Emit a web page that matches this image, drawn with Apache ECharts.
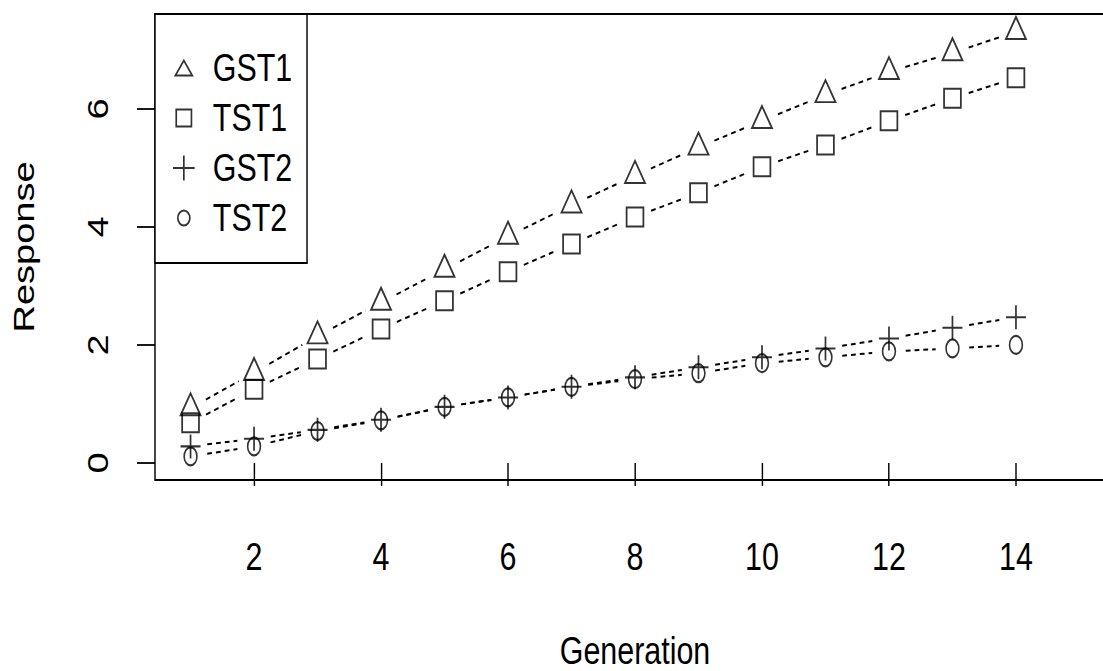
<!DOCTYPE html>
<html>
<head>
<meta charset="utf-8">
<script src="https://cdn.jsdelivr.net/npm/echarts@6/dist/echarts.min.js"></script>
<style>
  html, body { margin: 0; padding: 0; background: #fff; overflow: hidden; }
  /* the source plot is squeezed horizontally; draw wide and squeeze the same way */
  #chart { width: 1379px; height: 671px; transform: scaleX(0.8); transform-origin: 0 0; }
</style>
</head>
<body>
<div id="chart"></div>
<script>
// values
const generations = [1, 2, 3, 4, 5, 6, 7, 8, 9, 10, 11, 12, 13, 14];
const gst1 = [0.93, 1.53, 2.15, 2.72, 3.28, 3.84, 4.37, 4.87, 5.35, 5.80, 6.24, 6.63, 6.95, 7.31];
const tst1 = [0.68, 1.25, 1.76, 2.27, 2.75, 3.24, 3.71, 4.17, 4.58, 5.02, 5.39, 5.80, 6.18, 6.53];
const gst2 = [0.28, 0.41, 0.56, 0.73, 0.95, 1.11, 1.29, 1.45, 1.62, 1.79, 1.94, 2.11, 2.29, 2.47];
const tst2 = [0.11, 0.28, 0.54, 0.72, 0.95, 1.11, 1.29, 1.42, 1.52, 1.69, 1.79, 1.89, 1.94, 2.00];
const xTicks = [2, 4, 6, 8, 10, 12, 14];
const yTicks = [0, 2, 4, 6];

const font = "'Liberation Sans', Arial, sans-serif";

const symbols = {
  GST1: { plot: 'path://M12.5 0L25 22L0 22Z', size: [25, 22], offset: [0, -3.7],
    legend: 'path://M0 0M27 25M13.5 5L24 20L3 20Z' },
  TST1: { plot: 'path://M0 0L21 0L21 19L0 19Z', size: [21, 19], offset: [0, 0],
    legend: 'path://M0 0M27 25M4 4L23 4L23 21L4 21Z' },
  GST2: { plot: 'path://M0 12L25 12M12.5 0L12.5 24', size: [25, 24], offset: [0, 0],
    legend: 'path://M0 12.5L27 12.5M13.5 0L13.5 25' },
  TST2: { plot: 'path://M0 9A8 9 0 1 1 16 9A8 9 0 1 1 0 9Z', size: [16, 18], offset: [0, 0],
    legend: 'path://M0 0M27 25M6 12.5A7.5 7.5 0 1 1 21 12.5A7.5 7.5 0 1 1 6 12.5Z' },
};

const seriesData = [
  ['GST1', gst1],
  ['TST1', tst1],
  ['GST2', gst2],
  ['TST2', tst2],
];

// R type="b": dashed segments that stop short of each point
const gapLine = (values, gap) => (params, api) => {
  const i = params.dataIndex;
  if (i >= values.length - 1) return null;
  const p0 = api.coord([generations[i], values[i]]);
  const p1 = api.coord([generations[i + 1], values[i + 1]]);
  const dx = p1[0] - p0[0];
  const dy = p1[1] - p0[1];
  const len = Math.sqrt(dx * dx + dy * dy);
  const ux = dx / len;
  const uy = dy / len;
  return {
    type: 'line',
    shape: {
      x1: p0[0] + ux * gap, y1: p0[1] + uy * gap,
      x2: p1[0] - ux * gap, y2: p1[1] - uy * gap,
    },
    style: { stroke: '#000', lineWidth: 2, lineDash: [6, 5] },
  };
};

const series = [];
seriesData.forEach(([name, values]) => {
  const pts = generations.map((g, i) => [g, values[i]]);
  series.push({
    type: 'custom',
    name: name + '-line',
    data: pts,
    encode: { x: 0, y: 1 },
    renderItem: gapLine(values, 21),
    silent: true,
  });
  series.push({
    type: 'scatter',
    name,
    data: pts,
    symbol: symbols[name].plot,
    symbolSize: symbols[name].size,
    symbolOffset: symbols[name].offset,
    itemStyle: { color: 'rgba(0,0,0,0)', borderColor: '#000', borderWidth: 2.1 },
    z: 3,
  });
});

const chart = echarts.init(document.getElementById('chart'), null, { renderer: 'svg' });
chart.setOption({
  animation: false,
  backgroundColor: '#fff',
  grid: {
    left: 193.75, top: 14, width: 1200, height: 466,
    containLabel: false, outerBoundsMode: 'none',
    show: true, borderColor: '#000', borderWidth: 1.8, backgroundColor: 'transparent',
  },
  legend: {
    orient: 'vertical',
    left: 193.75, top: 14,
    padding: [34, 18.5, 25, 21.5],
    itemGap: 10,
    itemWidth: 27, itemHeight: 25,
    borderColor: '#000', borderWidth: 1.8, backgroundColor: '#fff',
    selectedMode: false,
    itemStyle: { color: 'rgba(0,0,0,0)', borderColor: '#000', borderWidth: 2.1 },
    textStyle: { fontFamily: font, fontSize: 38, lineHeight: 40, color: '#000', padding: [0, 0, 0, 17.75] },
    data: seriesData.map(([name]) => ({ name, icon: symbols[name].legend })),
  },
  xAxis: {
    type: 'value', min: 0.44, max: 15.56,
    axisLine: { show: false },
    splitLine: { show: false },
    axisTick: { length: 23, lineStyle: { color: '#000', width: 1.8 }, customValues: xTicks },
    axisLabel: { customValues: xTicks, margin: 58, fontSize: 38, lineHeight: 38, fontFamily: font, color: '#000' },
    name: 'Generation', nameLocation: 'middle', nameGap: 152,
    nameTextStyle: { fontSize: 38, lineHeight: 38, fontFamily: font, color: '#000' },
  },
  yAxis: {
    type: 'value', min: -0.29, max: 7.61,
    axisLine: { show: false },
    splitLine: { show: false },
    axisTick: { length: 22.5, lineStyle: { color: '#000', width: 1.8 }, customValues: yTicks },
    axisLabel: { customValues: yTicks, rotate: 90, margin: 53, fontSize: 38, lineHeight: 38, fontFamily: font, color: '#000' },
    name: 'Response', nameLocation: 'middle', nameRotate: 90, nameGap: 146,
    nameTextStyle: { fontSize: 38, lineHeight: 38, fontFamily: font, color: '#000' },
  },
  series,
});
</script>
</body>
</html>
